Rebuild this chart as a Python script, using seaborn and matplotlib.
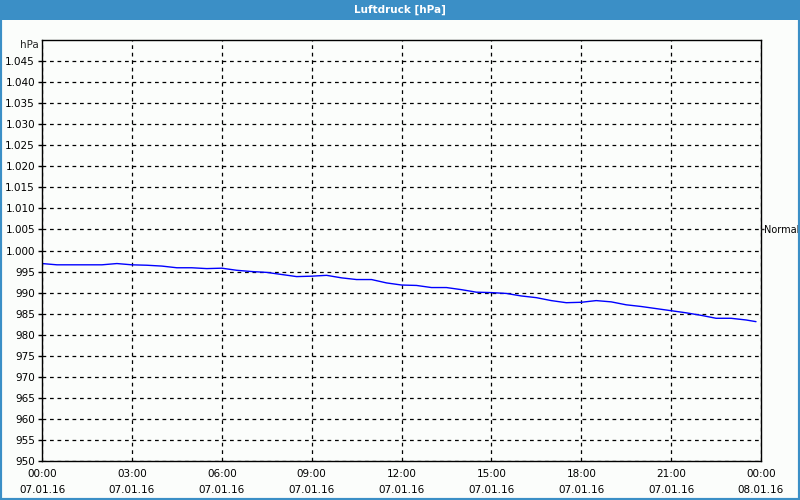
import matplotlib
matplotlib.use("Agg")
import matplotlib.pyplot as plt
from matplotlib.patches import Rectangle
from matplotlib.ticker import MultipleLocator
import seaborn as sns
import pandas as pd

# ---- data ----
times = ["00:00", "00:30", "01:00", "01:30", "02:00", "02:30", "03:00", "03:30",
         "04:00", "04:30", "05:00", "05:30", "06:00", "06:30", "07:00", "07:30",
         "08:00", "08:30", "09:00", "09:30", "10:00", "10:30", "11:00", "11:30",
         "12:00", "12:30", "13:00", "13:30", "14:00", "14:30", "15:00", "15:30",
         "16:00", "16:30", "17:00", "17:30", "18:00", "18:30", "19:00", "19:30",
         "20:00", "20:30", "21:00", "21:30", "22:00", "22:30", "23:00", "23:30",
         "23:50"]
pressure = [996.9, 996.6, 996.6, 996.6, 996.6, 996.9, 996.6, 996.5,
            996.3, 995.9, 995.9, 995.7, 995.8, 995.3, 995.0, 994.8,
            994.3, 993.8, 993.9, 994.1, 993.5, 993.1, 993.1, 992.3,
            991.8, 991.7, 991.2, 991.2, 990.7, 990.1, 990.0, 989.8,
            989.2, 988.8, 988.1, 987.6, 987.7, 988.1, 987.8, 987.1,
            986.7, 986.2, 985.7, 985.2, 984.6, 983.9, 983.9, 983.5,
            983.1]

xtick_hours = [0, 3, 6, 9, 12, 15, 18, 21, 24]
xtick_labels = ["00:00\n07.01.16", "03:00\n07.01.16", "06:00\n07.01.16",
                "09:00\n07.01.16", "12:00\n07.01.16", "15:00\n07.01.16",
                "18:00\n07.01.16", "21:00\n07.01.16", "00:00\n08.01.16"]
ytick_values = [950, 955, 960, 965, 970, 975, 980, 985, 990, 995,
                1000, 1005, 1010, 1015, 1020, 1025, 1030, 1035, 1040, 1045]
ytick_labels = ["950", "955", "960", "965", "970", "975", "980", "985", "990", "995",
                "1.000", "1.005", "1.010", "1.015", "1.020", "1.025", "1.030",
                "1.035", "1.040", "1.045"]
normal_value = [1005]
normal_label = ["Normal"]
title = "Luftdruck [hPa]"
unit = "hPa"

hours = [int(t[:2]) + int(t[3:]) / 60 for t in times]
df = pd.DataFrame({"hour": hours, "hPa": pressure})

# ---- style ----
sns.set_style("white")
plt.rcParams["font.family"] = ["DejaVu Sans"]
bg = "#fbfdfb"
frame_blue = "#3b8fc6"

fig = plt.figure(figsize=(8, 5), dpi=100, facecolor=bg)
ax = fig.add_axes([42 / 800, 1 - 461 / 500, (761 - 42) / 800, (461 - 40) / 500])
ax.set_facecolor(bg)

sns.lineplot(data=df, x="hour", y="hPa", ax=ax, color="#0000ff", linewidth=1)

ax.set_xlim(0, 24)
ax.set_ylim(950, 1050)
ax.set_xticks(xtick_hours)
ax.set_xticklabels(xtick_labels)
ax.xaxis.set_minor_locator(MultipleLocator(1))
ax.set_yticks(ytick_values)
ax.set_yticklabels(ytick_labels)
ax.set_xlabel("")
ax.set_ylabel("")

ax.grid(True, which="major", color="black", linestyle=(0, (3, 3)), linewidth=0.9)
ax.tick_params(axis="both", which="both", direction="out", length=3, width=1,
               color="black", labelsize=7.5, labelcolor="black", pad=2)
ax.tick_params(axis="x", which="major", pad=3)
for s in ax.spines.values():
    s.set_color("black")
    s.set_linewidth(1)
for lbl in ax.get_xticklabels():
    lbl.set_linespacing(1.65)

ax2 = ax.twinx()
ax2.set_ylim(ax.get_ylim())
ax2.set_yticks(normal_value)
ax2.set_yticklabels(normal_label)
ax2.tick_params(axis="y", direction="out", length=2, width=1, labelsize=7, pad=0.5,
                labelcolor="black")
for s in ax2.spines.values():
    s.set_visible(False)

fig.text(39 / 800, 1 - 45.5 / 500, unit, ha="right", va="center", fontsize=7.5)

# title bar
fig.patches.append(Rectangle((0, 1 - 20 / 500), 1, 20 / 500, transform=fig.transFigure,
                             facecolor=frame_blue, edgecolor="none", zorder=0))
fig.text(0.5, 1 - 10 / 500, title, ha="center", va="center", color="white",
         fontsize=7.5, fontweight="bold")
# outer frame
fig.patches.append(Rectangle((0, 0), 1, 1, transform=fig.transFigure,
                             facecolor="none", edgecolor=frame_blue, linewidth=3, zorder=5))

fig.savefig("out.png", dpi=100, facecolor=bg)
